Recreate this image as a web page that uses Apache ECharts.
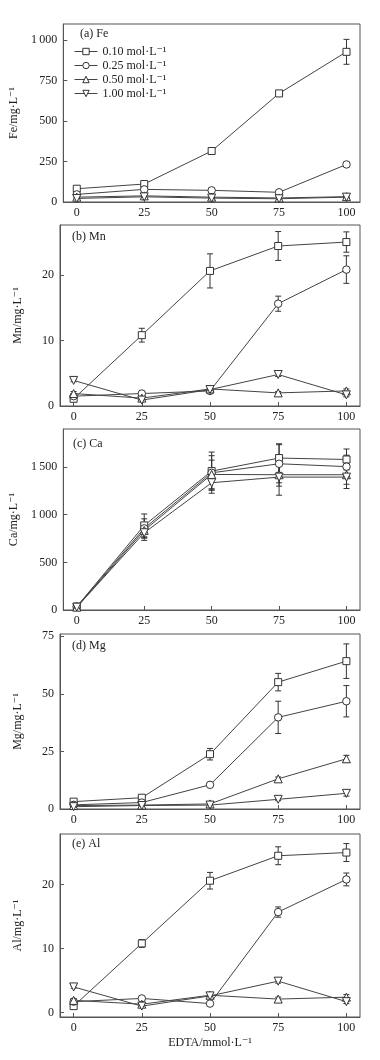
<!DOCTYPE html>
<html><head><meta charset="utf-8">
<script src="https://cdn.jsdelivr.net/npm/echarts@6/dist/echarts.min.js"></script>
<style>html,body{margin:0;padding:0;background:#fff}#c{width:380px;height:1060px}</style>
</head><body><div id="c"></div>
<script>
// ---- data ----
const edta = [0, 25, 50, 75, 100];
const xTicks = [0, 25, 50, 75, 100];
const seriesNames = ['0.10 mol·L⁻¹', '0.25 mol·L⁻¹', '0.50 mol·L⁻¹', '1.00 mol·L⁻¹'];

const fe010 = [82, 111, 315, 671, 928];   const fe010Err = [10, 18, 15, 8, 77];
const fe025 = [47, 78, 72, 60, 232];      const fe025Err = [5, 6, 8, 5, 8];
const fe050 = [30, 38, 30, 25, 33];       const fe050Err = [4, 5, 4, 4, 5];
const fe100 = [22, 32, 24, 20, 30];       const fe100Err = [4, 5, 4, 4, 5];
const feTicks = [0, 250, 500, 750, 1000];

const mn010 = [1.1, 10.8, 20.6, 24.4, 25.0]; const mn010Err = [0.3, 1.05, 2.6, 2.2, 1.55];
const mn025 = [1.5, 1.9, 2.3, 15.6, 20.8];   const mn025Err = [0.2, 0.2, 0.3, 1.15, 2.1];
const mn050 = [1.9, 1.2, 2.6, 2.0, 2.3];     const mn050Err = [0.3, 0.2, 0.3, 0.2, 0.3];
const mn100 = [3.9, 0.9, 2.5, 4.8, 1.7];     const mn100Err = [0.2, 0.2, 0.3, 0.3, 0.3];
const mnTicks = [0, 10, 20];

const ca010 = [35, 888, 1458, 1595, 1580];  const ca010Err = [10, 120, 200, 150, 110];
const ca025 = [35, 857, 1440, 1535, 1505];  const ca025Err = [10, 100, 180, 200, 120];
const ca050 = [30, 836, 1423, 1420, 1420];  const ca050Err = [10, 80, 150, 120, 100];
const ca100 = [30, 811, 1336, 1395, 1395];  const ca100Err = [10, 80, 110, 190, 120];
const caTicks = [0, 500, 1000, 1500];

const mg010 = [3.2, 4.9, 23.8, 55.1, 64.2]; const mg010Err = [0.5, 0.6, 2.5, 3.8, 7.5];
const mg025 = [1.8, 2.8, 10.5, 39.8, 46.8]; const mg025Err = [0.3, 0.4, 0.6, 7.0, 6.8];
const mg050 = [1.5, 1.7, 2.2, 13.1, 21.8];  const mg050Err = [0.3, 0.3, 0.4, 0.8, 1.5];
const mg100 = [1.0, 1.5, 1.7, 4.2, 6.8];    const mg100Err = [0.2, 0.3, 0.3, 0.6, 1.2];
const mgTicks = [0, 25, 50, 75];

const al010 = [1.0, 10.8, 20.6, 24.5, 25.0]; const al010Err = [0.3, 0.6, 1.3, 1.4, 1.4];
const al025 = [1.7, 2.2, 1.4, 15.7, 20.8];   const al025Err = [0.2, 0.3, 0.2, 0.8, 1.0];
const al050 = [1.9, 1.3, 2.7, 2.1, 2.4];     const al050Err = [0.3, 0.2, 0.3, 0.3, 0.4];
const al100 = [4.0, 1.0, 2.6, 4.9, 1.7];     const al100Err = [0.2, 0.2, 0.3, 0.3, 0.3];
const alTicks = [0, 10, 20];

// ---- layout / style ----
const FONT = '"Liberation Serif","DejaVu Serif",serif';
const TXT = '#222';
const panels = [
  {label: '(a) Fe', lx: 80, ly: 28, yName: 'Fe/mg·L⁻¹', top: 24, h: 178, min: 0, max: 1100, ticks: feTicks,
   vals: [fe010, fe025, fe050, fe100], errs: [fe010Err, fe025Err, fe050Err, fe100Err]},
  {label: '(b) Mn', lx: 72, ly: 231, yName: 'Mn/mg·L⁻¹', top: 225, h: 181, min: 0, max: 27.6, ticks: mnTicks,
   vals: [mn010, mn025, mn050, mn100], errs: [mn010Err, mn025Err, mn050Err, mn100Err]},
  {label: '(c) Ca', lx: 73, ly: 438, yName: 'Ca/mg·L⁻¹', top: 429, h: 181, min: 0, max: 1900, ticks: caTicks,
   vals: [ca010, ca025, ca050, ca100], errs: [ca010Err, ca025Err, ca050Err, ca100Err]},
  {label: '(d) Mg', lx: 72, ly: 640, yName: 'Mg/mg·L⁻¹', top: 634, h: 175, min: 0, max: 76, ticks: mgTicks,
   vals: [mg010, mg025, mg050, mg100], errs: [mg010Err, mg025Err, mg050Err, mg100Err]},
  {label: '(e) Al', lx: 72, ly: 838, yName: 'Al/mg·L⁻¹', top: 834, h: 183, min: -0.7, max: 27.9, ticks: alTicks,
   vals: [al010, al025, al050, al100], errs: [al010Err, al025Err, al050Err, al100Err]}
];
const symbols = ['rect', 'circle', 'triangle', 'triangle'];
const rotates = [0, 0, 0, 180];
const sizes = [7, 7.5, 8, 8];

const fmt = v => v >= 1000 ? String(v).replace(/(\d)(\d{3})$/, '$1\u2009$2') : String(v);

const grids = [], xAxes = [], yAxes = [], series = [], titles = [];
panels.forEach((p, i) => {
  grids.push({left: 60, width: 300, top: p.top, height: p.h, show: true, borderColor: '#555', borderWidth: 1, containLabel: false});
  titles.push({text: p.label, left: p.lx, top: p.ly, padding: 0,
    textStyle: {fontFamily: FONT, fontSize: 12, fontWeight: 'normal', color: TXT}});
  const last = i === panels.length - 1;
  xAxes.push({type: 'value', gridIndex: i, min: -5, max: 105,
    name: last ? 'EDTA/mmol·L⁻¹' : '', nameLocation: 'middle', nameGap: 20,
    nameTextStyle: {fontFamily: FONT, fontSize: 12, color: TXT},
    axisLine: {show: true, onZero: false, lineStyle: {color: '#555'}},
    axisTick: {show: true, inside: true, length: 4, customValues: xTicks, lineStyle: {color: '#555'}},
    axisLabel: {customValues: xTicks, fontFamily: FONT, fontSize: 12, color: TXT, margin: 5},
    splitLine: {show: false}});
  yAxes.push({type: 'value', gridIndex: i, min: p.min, max: p.max,
    name: p.yName, nameLocation: 'middle', nameGap: 36, nameRotate: 90,
    nameTextStyle: {fontFamily: FONT, fontSize: 12, color: TXT},
    axisLine: {show: true, onZero: false, lineStyle: {color: '#555'}},
    axisTick: {show: true, inside: true, length: 4, customValues: p.ticks, lineStyle: {color: '#555'}},
    axisLabel: {customValues: p.ticks, formatter: fmt, fontFamily: FONT, fontSize: 12, color: TXT, margin: 6},
    splitLine: {show: false}});
  p.vals.forEach((vals, k) => {
    const errs = p.errs[k];
    series.push({type: 'custom', xAxisIndex: i, yAxisIndex: i, silent: true, z: 1,
      data: vals.map((v, j) => [edta[j], v - errs[j], v + errs[j]]),
      renderItem: (params, api) => {
        const x = api.value(0);
        const lo = api.coord([x, api.value(1)]);
        const hi = api.coord([x, api.value(2)]);
        const st = {stroke: '#333', lineWidth: 1};
        return {type: 'group', children: [
          {type: 'line', shape: {x1: lo[0], y1: lo[1], x2: hi[0], y2: hi[1]}, style: st},
          {type: 'line', shape: {x1: lo[0] - 3, y1: lo[1], x2: lo[0] + 3, y2: lo[1]}, style: st},
          {type: 'line', shape: {x1: hi[0] - 3, y1: hi[1], x2: hi[0] + 3, y2: hi[1]}, style: st}
        ]};
      }});
    series.push({type: 'line', name: seriesNames[k], xAxisIndex: i, yAxisIndex: i, z: 3,
      data: vals.map((v, j) => [edta[j], v]),
      symbol: symbols[k], symbolRotate: rotates[k], symbolSize: sizes[k], showAllSymbol: true,
      itemStyle: {color: '#fff', borderColor: '#333', borderWidth: 1},
      lineStyle: {color: '#444', width: 1}});
  });
});

const chart = echarts.init(document.getElementById('c'), null, {renderer: 'canvas'});
chart.setOption({
  animation: false,
  backgroundColor: '#fff',
  title: titles,
  legend: {data: seriesNames, orient: 'vertical', left: 74, top: 45, itemWidth: 23, itemHeight: 8, itemGap: 1,
    padding: 0, selectedMode: false,
    lineStyle: {width: 1, color: '#444'},
    itemStyle: {color: '#fff', borderColor: '#333', borderWidth: 1},
    textStyle: {fontFamily: FONT, fontSize: 12, color: TXT, lineHeight: 13}},
  grid: grids, xAxis: xAxes, yAxis: yAxes, series: series
});
</script></body></html>
